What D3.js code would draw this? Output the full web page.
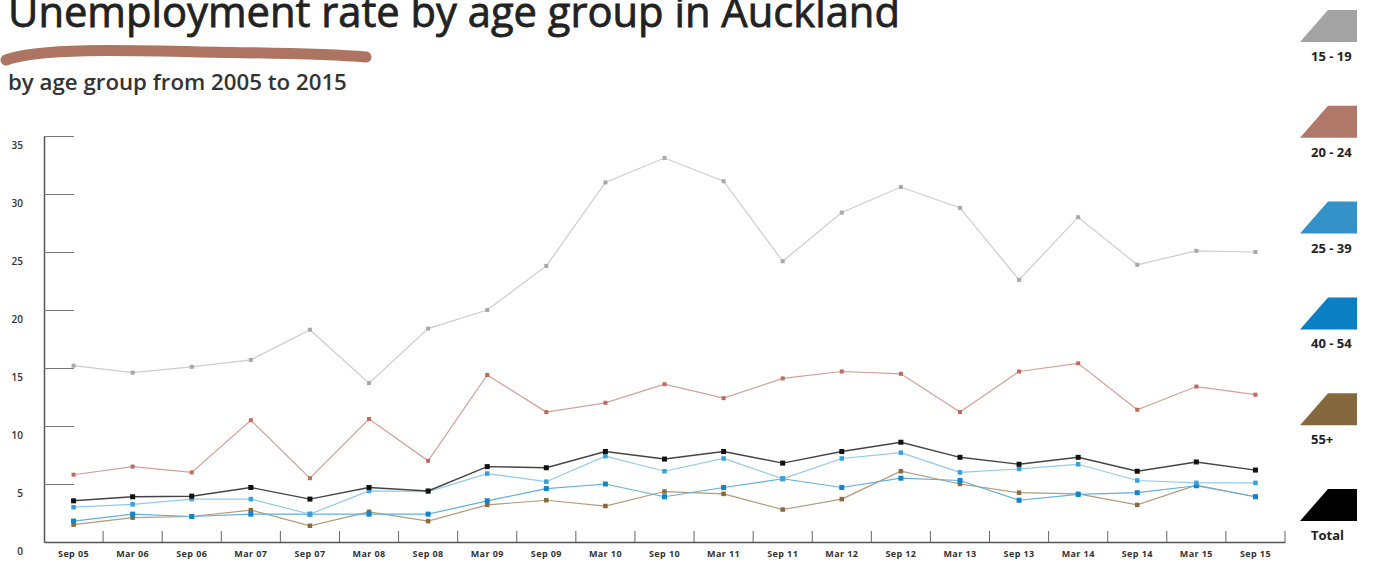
<!DOCTYPE html>
<meta charset="utf-8">
<style>
  body {
    margin: 0;
    background: #fff;
    font-family: "Open Sans", sans-serif;
  }
</style>
<body>
<svg id="chart" width="1376" height="562"></svg>

<script src="https://d3js.org/d3.v7.min.js"></script>
<script>

// half-year periods
const periods = ["Sep 05", "Mar 06", "Sep 06", "Mar 07", "Sep 07", "Mar 08", "Sep 08",
  "Mar 09", "Sep 09", "Mar 10", "Sep 10", "Mar 11", "Sep 11", "Mar 12", "Sep 12",
  "Mar 13", "Sep 13", "Mar 14", "Sep 14", "Mar 15", "Sep 15"];

// unemployment rate (%) per age group
const age15to19 = [15.2, 14.6, 15.1, 15.7, 18.3, 13.7, 18.4, 20.0, 23.8, 31.0, 33.1,
  31.1, 24.2, 28.4, 30.6, 28.8, 22.6, 28.0, 23.9, 25.1, 25.0];
const age20to24 = [5.8, 6.5, 6.0, 10.5, 5.5, 10.6, 7.0, 14.4, 11.2, 12.0, 13.6,
  12.4, 14.1, 14.7, 14.5, 11.2, 14.7, 15.4, 11.4, 13.4, 12.7];
const age25to39 = [3.0, 3.25, 3.7, 3.7, 2.4, 4.4, 4.35, 5.9, 5.2, 7.4, 6.1,
  7.2, 5.45, 7.2, 7.7, 6.0, 6.3, 6.7, 5.3, 5.1, 5.1];
const age40to54 = [1.8, 2.4, 2.2, 2.4, 2.4, 2.4, 2.4, 3.55, 4.6, 5.0, 3.9,
  4.7, 5.45, 4.7, 5.5, 5.3, 3.6, 4.1, 4.25, 4.85, 3.9];
const age55plus = [1.5, 2.1, 2.2, 2.75, 1.4, 2.6, 1.8, 3.2, 3.6, 3.1, 4.35,
  4.15, 2.8, 3.7, 6.1, 5.0, 4.25, 4.15, 3.2, 4.9, 3.9];
const total = [3.55, 3.9, 3.95, 4.7, 3.7, 4.7, 4.4, 6.5, 6.4, 7.8, 7.15,
  7.8, 6.8, 7.8, 8.6, 7.3, 6.7, 7.3, 6.1, 6.9, 6.2];

const yTicks = [0, 5, 10, 15, 20, 25, 30, 35];

const legendLabels = ["15 - 19", "20 - 24", "25 - 39", "40 - 54", "55+", "Total"];
const legendColors = ["#a3a3a3", "#b07868", "#3592c8", "#0a7fc2", "#86683f", "#000"];

const series = [
  {name: "15 - 19", values: age15to19, line: "#cdcdcd", dot: "#a8a8a8", size: 4},
  {name: "20 - 24", values: age20to24, line: "#d2a197", dot: "#c06a5c", size: 4},
  {name: "55+", values: age55plus, line: "#b39b77", dot: "#8a6a40", size: 4.5},
  {name: "40 - 54", values: age40to54, line: "#5fb0e0", dot: "#1185c8", size: 5},
  {name: "25 - 39", values: age25to39, line: "#8fcbef", dot: "#3aa0dc", size: 4.5},
  {name: "Total", values: total, line: "#444", dot: "#111", size: 5}
];

const svg = d3.select("#chart");

const x = d3.scaleBand().domain(periods).range([44, 1285]);
const y = d3.scaleLinear().domain([0, 35]).range([542, 136]);

// title (cut at the top edge, as in the original)
const title = svg.append("text")
  .attr("x", 8).attr("y", 27)
  .attr("fill", "#222")
  .attr("stroke", "#222")
  .attr("stroke-width", 0.8)
  .style("font-size", "36px")
  .text("Unemployment rate by age group in Auckland");
const tw = title.node().getComputedTextLength();
title.style("font-size", (36 * 892 / tw) + "px");

// brush underline
svg.append("path")
  .attr("d", "M6,60 C40,48 120,50 200,52 C280,53 330,54 366,57")
  .attr("fill", "none")
  .attr("stroke", "#ad7462")
  .attr("stroke-width", 11)
  .attr("stroke-linecap", "round");

const sub = svg.append("text")
  .attr("x", 8).attr("y", 90)
  .attr("fill", "#333")
  .style("font-size", "20px")
  .style("font-weight", 600)
  .text("by age group from 2005 to 2015");
const sw = sub.node().getComputedTextLength();
sub.style("font-size", (20 * 339 / sw) + "px");

// y axis
const yAxis = svg.append("g")
  .attr("transform", "translate(44,0)")
  .call(d3.axisLeft(y).tickValues(yTicks).tickSize(-30).tickSizeOuter(0).tickPadding(21));
yAxis.select(".domain").attr("stroke", "#555").attr("stroke-width", 1.5);
yAxis.selectAll(".tick line").attr("stroke", "#777");
yAxis.selectAll(".tick text")
  .attr("dy", "1.2em")
  .attr("fill", "#333")
  .style("font-size", "10px")
  .style("font-weight", 600)
  .style("font-family", "Open Sans, sans-serif");

// x axis
const xAxis = svg.append("g")
  .attr("transform", "translate(0,542)")
  .call(d3.axisBottom(x).tickSize(0).tickSizeOuter(0).tickPadding(9));
xAxis.select(".domain").attr("stroke", "#555").attr("stroke-width", 1.5);
xAxis.selectAll(".tick text")
  .attr("fill", "#333")
  .style("font-size", "9px")
  .style("font-weight", 700)
  .style("letter-spacing", "0.4px")
  .style("font-family", "Open Sans, sans-serif");

// band boundary ticks
const bounds = periods.slice(1).map(p => x(p)).concat([x.range()[1]]);
svg.append("g").selectAll("line")
  .data(bounds)
  .join("line")
  .attr("x1", d => d).attr("x2", d => d)
  .attr("y1", 531).attr("y2", 542)
  .attr("stroke", "#666");

// lines and markers
const line = d3.line()
  .x((d, i) => x(periods[i]) + x.bandwidth() / 2)
  .y(d => y(d));

series.forEach(s => {
  svg.append("path")
    .datum(s.values)
    .attr("d", line)
    .attr("fill", "none")
    .attr("stroke", s.line)
    .attr("stroke-width", s.name === "Total" ? 1.4 : 1.2);

  svg.append("g").selectAll("rect")
    .data(s.values)
    .join("rect")
    .attr("x", (d, i) => x(periods[i]) + x.bandwidth() / 2 - s.size / 2)
    .attr("y", d => y(d) - s.size / 2)
    .attr("width", s.size)
    .attr("height", s.size)
    .attr("fill", s.dot);
});

// legend
const legend = svg.append("g").selectAll("g")
  .data(legendLabels)
  .join("g")
  .attr("transform", (d, i) => `translate(0,${10 + i * 95.8})`);

legend.append("path")
  .attr("d", "M1300,32 L1328,0 L1357,0 L1357,32 Z")
  .attr("fill", (d, i) => legendColors[i]);

legend.append("text")
  .attr("x", 1311)
  .attr("y", 51)
  .attr("fill", "#222")
  .style("font-size", "13px")
  .style("font-weight", 700)
  .text(d => d);

</script>
</body>
